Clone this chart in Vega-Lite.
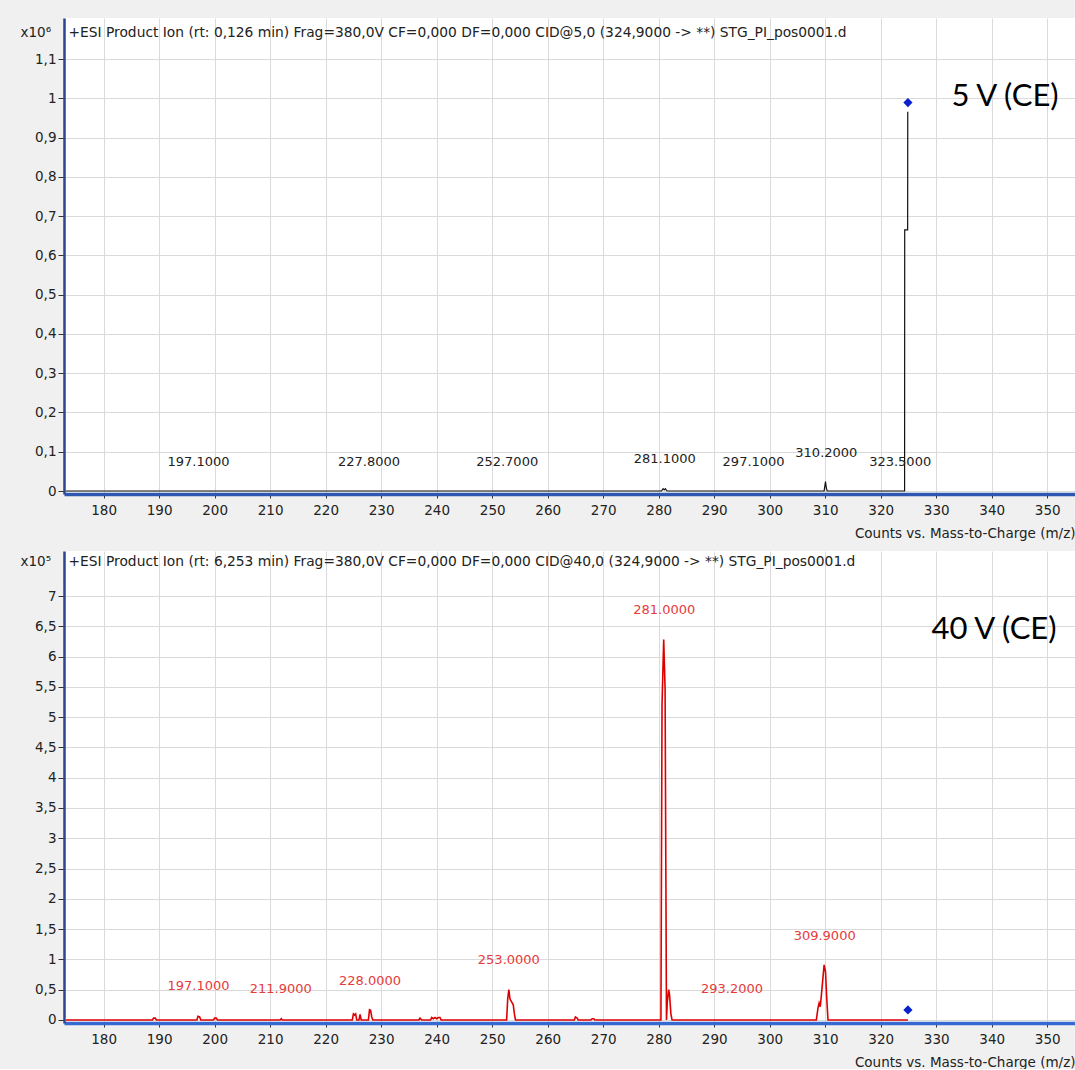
{
  "$schema": "https://vega.github.io/schema/vega-lite/v6.json",
  "padding": {"left": 20, "top": 18, "right": 0, "bottom": 0},
  "background": "#f0f0f0",
  "spacing": 11,
  "config": {
    "font": "DejaVu Sans",
    "view": {"fill": "white", "stroke": null},
    "axis": {
      "labelFont": "DejaVu Sans", "labelFontSize": 13.5, "labelColor": "#222",
      "titleFont": "DejaVu Sans", "titleFontSize": 13.5, "titleFontWeight": "normal", "titleColor": "#222",
      "gridColor": "#dadada", "gridWidth": 1, "tickColor": "#333"
    }
  },
  "datasets": {
    "topSpectrum": [
      {"mz": 173.2, "counts": 0}, {"mz": 280.5, "counts": 0}, {"mz": 280.8, "counts": 0.006}, {"mz": 281.0, "counts": 0.003},
      {"mz": 281.2, "counts": 0.006}, {"mz": 281.5, "counts": 0}, {"mz": 309.8, "counts": 0}, {"mz": 310.05, "counts": 0.024},
      {"mz": 310.2, "counts": 0.008}, {"mz": 310.35, "counts": 0}, {"mz": 324.3, "counts": 0}, {"mz": 324.32, "counts": 0.665},
      {"mz": 324.85, "counts": 0.665}, {"mz": 324.87, "counts": 0.966}
    ],
    "topLabels": [
      {"mz": 197.1, "counts": 0.074, "text": "197.1000"}, {"mz": 227.8, "counts": 0.074, "text": "227.8000"},
      {"mz": 252.7, "counts": 0.074, "text": "252.7000"}, {"mz": 281.1, "counts": 0.081, "text": "281.1000"},
      {"mz": 297.1, "counts": 0.074, "text": "297.1000"}, {"mz": 310.2, "counts": 0.097, "text": "310.2000"},
      {"mz": 323.5, "counts": 0.074, "text": "323.5000"}
    ],
    "topMarker": [{"mz": 324.9, "counts": 0.989}],
    "topHeader": [{"mz": 173.67, "counts": 1.166, "text": "+ESI Product Ion (rt: 0,126 min) Frag=380,0V CF=0,000 DF=0,000 CID@5,0 (324,9000 -> **) STG_PI_pos0001.d"}],
    "topCE": [{"mz": 342.4, "counts": 1.003, "text": "5 V (CE)"}],
    "bottomSpectrum": [
      {"mz": 173.2, "counts": 0},
      {"mz": 188.8, "counts": 0}, {"mz": 189.0, "counts": 0.03}, {"mz": 189.3, "counts": 0.03}, {"mz": 189.5, "counts": 0},
      {"mz": 196.8, "counts": 0}, {"mz": 197.0, "counts": 0.06}, {"mz": 197.3, "counts": 0.05}, {"mz": 197.5, "counts": 0},
      {"mz": 199.8, "counts": 0}, {"mz": 200.0, "counts": 0.03}, {"mz": 200.3, "counts": 0.03}, {"mz": 200.5, "counts": 0},
      {"mz": 211.8, "counts": 0}, {"mz": 212.0, "counts": 0.02}, {"mz": 212.2, "counts": 0},
      {"mz": 224.8, "counts": 0}, {"mz": 225.0, "counts": 0.1}, {"mz": 225.2, "counts": 0.08}, {"mz": 225.4, "counts": 0.1},
      {"mz": 225.6, "counts": 0}, {"mz": 226.0, "counts": 0}, {"mz": 226.2, "counts": 0.09}, {"mz": 226.4, "counts": 0},
      {"mz": 227.7, "counts": 0}, {"mz": 227.9, "counts": 0.17}, {"mz": 228.1, "counts": 0.16}, {"mz": 228.3, "counts": 0.05}, {"mz": 228.5, "counts": 0},
      {"mz": 236.8, "counts": 0}, {"mz": 237.0, "counts": 0.03}, {"mz": 237.3, "counts": 0},
      {"mz": 238.9, "counts": 0}, {"mz": 239.1, "counts": 0.04}, {"mz": 239.4, "counts": 0.02}, {"mz": 239.7, "counts": 0.04},
      {"mz": 240.0, "counts": 0.02}, {"mz": 240.3, "counts": 0.04}, {"mz": 240.6, "counts": 0.04}, {"mz": 240.8, "counts": 0},
      {"mz": 252.6, "counts": 0}, {"mz": 252.8, "counts": 0.35}, {"mz": 253.0, "counts": 0.5}, {"mz": 253.2, "counts": 0.35},
      {"mz": 253.5, "counts": 0.3}, {"mz": 253.8, "counts": 0.25}, {"mz": 254.0, "counts": 0.1}, {"mz": 254.2, "counts": 0},
      {"mz": 264.8, "counts": 0}, {"mz": 265.0, "counts": 0.05}, {"mz": 265.3, "counts": 0.03}, {"mz": 265.5, "counts": 0},
      {"mz": 267.8, "counts": 0}, {"mz": 268.0, "counts": 0.02}, {"mz": 268.3, "counts": 0.02}, {"mz": 268.5, "counts": 0},
      {"mz": 280.4, "counts": 0}, {"mz": 280.5, "counts": 2.6}, {"mz": 280.6, "counts": 5.2}, {"mz": 280.9, "counts": 6.28},
      {"mz": 281.15, "counts": 5.47}, {"mz": 281.3, "counts": 2.2}, {"mz": 281.4, "counts": 0}, {"mz": 281.55, "counts": 0.3},
      {"mz": 281.8, "counts": 0.5}, {"mz": 281.95, "counts": 0.42}, {"mz": 282.2, "counts": 0.1}, {"mz": 282.4, "counts": 0},
      {"mz": 308.4, "counts": 0}, {"mz": 308.7, "counts": 0.2}, {"mz": 308.9, "counts": 0.28}, {"mz": 309.1, "counts": 0.22},
      {"mz": 309.3, "counts": 0.4}, {"mz": 309.8, "counts": 0.91}, {"mz": 310.05, "counts": 0.8}, {"mz": 310.25, "counts": 0.4},
      {"mz": 310.5, "counts": 0}, {"mz": 324.9, "counts": 0}
    ],
    "bottomLabels": [
      {"mz": 197.1, "counts": 0.56, "text": "197.1000"}, {"mz": 211.9, "counts": 0.51, "text": "211.9000"},
      {"mz": 228.0, "counts": 0.644, "text": "228.0000"}, {"mz": 253.0, "counts": 0.99, "text": "253.0000"},
      {"mz": 281.0, "counts": 6.77, "text": "281.0000"}, {"mz": 293.2, "counts": 0.51, "text": "293.2000"},
      {"mz": 309.9, "counts": 1.387, "text": "309.9000"}
    ],
    "bottomMarker": [{"mz": 324.9, "counts": 0.165}],
    "bottomHeader": [{"mz": 173.67, "counts": 7.56, "text": "+ESI Product Ion (rt: 6,253 min) Frag=380,0V CF=0,000 DF=0,000 CID@40,0 (324,9000 -> **) STG_PI_pos0001.d"}],
    "bottomCE": [{"mz": 340.4, "counts": 6.44, "text": "40 V (CE)"}]
  },
  "vconcat": [
    {
      "width": 1011,
      "height": 476,
      "encoding": {
        "x": {"field": "mz", "type": "quantitative",
          "scale": {"domain": [172.86, 355.0], "nice": false, "zero": false},
          "axis": {"values": [180,190,200,210,220,230,240,250,260,270,280,290,300,310,320,330,340,350],
            "title": "Counts vs. Mass-to-Charge (m/z)", "titleAnchor": "end", "titleBaseline": "middle", "titleY": 39,
            "domainColor": "#2f57b0", "domainWidth": 3.5, "tickSize": 4, "labelPadding": 5}},
        "y": {"field": "counts", "type": "quantitative",
          "scale": {"domain": [-0.0076, 1.2044], "nice": false, "zero": false},
          "axis": {"values": [0,0.1,0.2,0.3,0.4,0.5,0.6,0.7,0.8,0.9,1,1.1],
            "labelExpr": "replace(toString(datum.value), '.', ',')",
            "title": "x10⁶", "titleAngle": 0, "titleAlign": "left", "titleBaseline": "middle", "titleX": -44, "titleY": 14,
            "domainColor": "#2a4690", "domainWidth": 2.5, "tickSize": 6, "labelPadding": 2}}
      },
      "layer": [
        {"data": {"name": "topSpectrum"}, "mark": {"type": "line", "color": "#111", "strokeWidth": 1.2, "clip": true}},
        {"data": {"values": [{}]}, "mark": {"type": "rect", "fill": "white"},
          "encoding": {"x": {"datum": 173.1, "type": "quantitative"}, "x2": {"datum": 355.0},
            "y": {"datum": 1.136, "type": "quantitative"}, "y2": {"datum": 1.2044}}},
        {"data": {"name": "topHeader"}, "mark": {"type": "text", "align": "left", "baseline": "middle", "fontSize": 13.8, "color": "#222"},
          "encoding": {"text": {"field": "text"}}},
        {"data": {"name": "topLabels"}, "mark": {"type": "text", "align": "center", "baseline": "middle", "fontSize": 13, "color": "#222"},
          "encoding": {"text": {"field": "text"}}},
        {"data": {"name": "topMarker"}, "mark": {"type": "point", "shape": "diamond", "filled": true, "color": "#0a22cc", "size": 85, "opacity": 1}},
        {"data": {"name": "topCE"}, "mark": {"type": "text", "align": "center", "baseline": "middle", "font": "Lato", "fontSize": 31, "color": "#000"},
          "encoding": {"text": {"field": "text"}}}
      ]
    },
    {
      "width": 1011,
      "height": 472,
      "encoding": {
        "x": {"field": "mz", "type": "quantitative",
          "scale": {"domain": [172.86, 355.0], "nice": false, "zero": false},
          "axis": {"values": [180,190,200,210,220,230,240,250,260,270,280,290,300,310,320,330,340,350],
            "title": "Counts vs. Mass-to-Charge (m/z)", "titleAnchor": "end", "titleBaseline": "middle", "titleY": 39,
            "domainColor": "#3568d0", "domainWidth": 3.5, "tickSize": 4, "labelPadding": 5}},
        "y": {"field": "counts", "type": "quantitative",
          "scale": {"domain": [-0.05, 7.743], "nice": false, "zero": false},
          "axis": {"values": [0,0.5,1,1.5,2,2.5,3,3.5,4,4.5,5,5.5,6,6.5,7],
            "labelExpr": "replace(toString(datum.value), '.', ',')",
            "title": "x10⁵", "titleAngle": 0, "titleAlign": "left", "titleBaseline": "middle", "titleX": -44, "titleY": 10,
            "domainColor": "#2a4690", "domainWidth": 2.5, "tickSize": 6, "labelPadding": 2}}
      },
      "layer": [
        {"data": {"name": "bottomSpectrum"}, "mark": {"type": "line", "color": "#dd0000", "strokeWidth": 1.6, "clip": true}},
        {"data": {"values": [{}]}, "mark": {"type": "rect", "fill": "white"},
          "encoding": {"x": {"datum": 173.1, "type": "quantitative"}, "x2": {"datum": 355.0},
            "y": {"datum": 7.363, "type": "quantitative"}, "y2": {"datum": 7.743}}},
        {"data": {"name": "bottomHeader"}, "mark": {"type": "text", "align": "left", "baseline": "middle", "fontSize": 13.8, "color": "#222"},
          "encoding": {"text": {"field": "text"}}},
        {"data": {"name": "bottomLabels"}, "mark": {"type": "text", "align": "center", "baseline": "middle", "fontSize": 13, "color": "#e53b3b"},
          "encoding": {"text": {"field": "text"}}},
        {"data": {"name": "bottomMarker"}, "mark": {"type": "point", "shape": "diamond", "filled": true, "color": "#0a22cc", "size": 85, "opacity": 1}},
        {"data": {"name": "bottomCE"}, "mark": {"type": "text", "align": "center", "baseline": "middle", "font": "Lato", "fontSize": 31, "color": "#000"},
          "encoding": {"text": {"field": "text"}}}
      ]
    }
  ]
}
